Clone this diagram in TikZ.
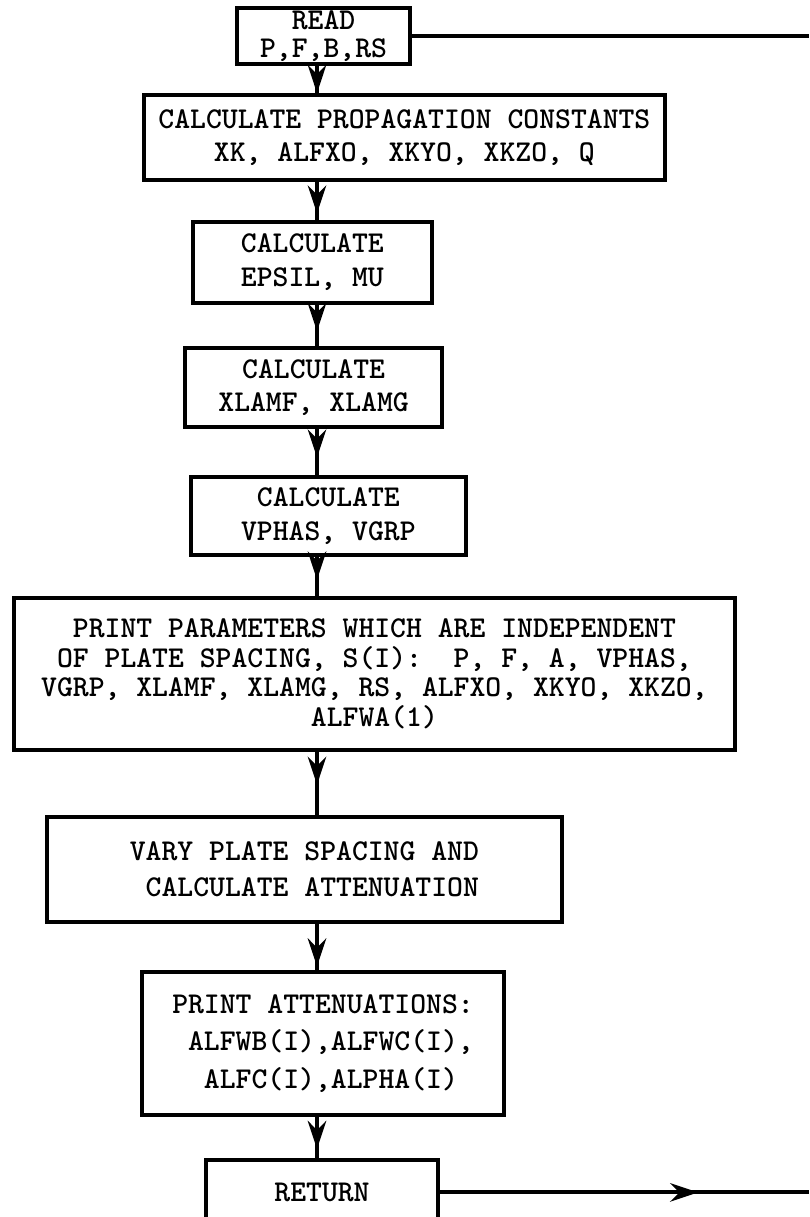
\documentclass[tikz,border=0pt]{standalone}
\usepackage{tikz}
\usetikzlibrary{arrows.meta,decorations.markings}
\newcommand{\flowfont}[1][24]{\fontsize{21.5}{#1}\selectfont\ttfamily\bfseries}
\tikzset{flow/.style={line width=2.8pt,postaction={decorate},decoration={markings,
		mark=at position #1 with {\arrow{Stealth[length=7mm,width=4.6mm]}}}},flow/.default=0.999,
	boxsize/.style 2 args={minimum width=#1,minimum height=#2}}
\tikzstyle{proc}=[rectangle,draw=black,line width=2.8pt,inner sep=2pt,align=center,font=\flowfont]

\begin{document}
\begin{tikzpicture}
	\useasboundingbox (0,0) rectangle (20.225,-30.425);
	\clip (0,0) rectangle (20.225,-30.425);
	\coordinate (spine) at (7.925,0);
	\coordinate (rim) at (20.225,0);
	\node at (8.09,-0.9) [proc,boxsize={4.325cm}{1.35cm},font={\flowfont[20]}] (read) {READ\\P,F,B,RS};
	\node at (10.11,-3.44) [proc,boxsize={13.03cm}{2.125cm}] (calcprop) {CALCULATE PROPAGATION CONSTANTS\\XK, ALFXO, XKYO, XKZO, Q};
	\node at (7.81,-6.56) [proc,boxsize={5.975cm}{2.025cm}] (calceps) {CALCULATE\\EPSIL, MU};
	\node at (7.84,-9.69) [proc,boxsize={6.425cm}{1.975cm}] (calclam) {CALCULATE\\XLAMF, XLAMG};
	\node at (8.21,-12.9) [proc,boxsize={6.875cm}{1.95cm}] (calcvel) {CALCULATE\\VPHAS, VGRP};
	\node at (9.36,-16.85) [proc,boxsize={18.025cm}{3.8cm},font={\flowfont[21]}] (printpar) {PRINT PARAMETERS WHICH ARE INDEPENDENT\\OF PLATE SPACING, S(I):\ \ P, F, A, VPHAS,\\VGRP, XLAMF, XLAMG, RS, ALFXO, XKYO, XKZO,\\ALFWA(1)};
	\node at (7.61,-21.74) [proc,boxsize={12.875cm}{2.625cm},font={\flowfont[25.5]},align=left] (vary) {VARY PLATE SPACING AND\\\ CALCULATE ATTENUATION};
	\node at (8.075,-26.09) [proc,boxsize={9.05cm}{3.575cm},font={\flowfont[27]},align=left] (printatt) {PRINT ATTENUATIONS:\\\ ALFWB(I),ALFWC(I),\\\ \ ALFC(I),ALPHA(I)};
	\node at (8.05,-29.81) [proc,boxsize={5.8cm}{1.625cm}] (ret) {RETURN};
	\draw[flow] (read.south -| spine) -- (calcprop.north -| spine);
	\draw[flow=0.83] (calcprop.south -| spine) -- (calceps.north -| spine);
	\draw[flow=0.64] (calceps.south -| spine) -- (calclam.north -| spine);
	\draw[flow=0.62] (calclam.south -| spine) -- (calcvel.north -| spine);
	\draw[flow=0.58] (calcvel.south -| spine) -- (printpar.north -| spine);
	\draw[flow=0.52] (printpar.south -| spine) -- (vary.north -| spine);
	\draw[flow=0.92] (vary.south -| spine) -- (printatt.north -| spine);
	\draw[flow=0.78] (printatt.south -| spine) -- (ret.north -| spine);
	\draw[line width=2.8pt] (read.east) -- (read.east -| rim);
	\draw[flow=0.7] (ret.east) -- (ret.east -| rim);
\end{tikzpicture}
\end{document}
